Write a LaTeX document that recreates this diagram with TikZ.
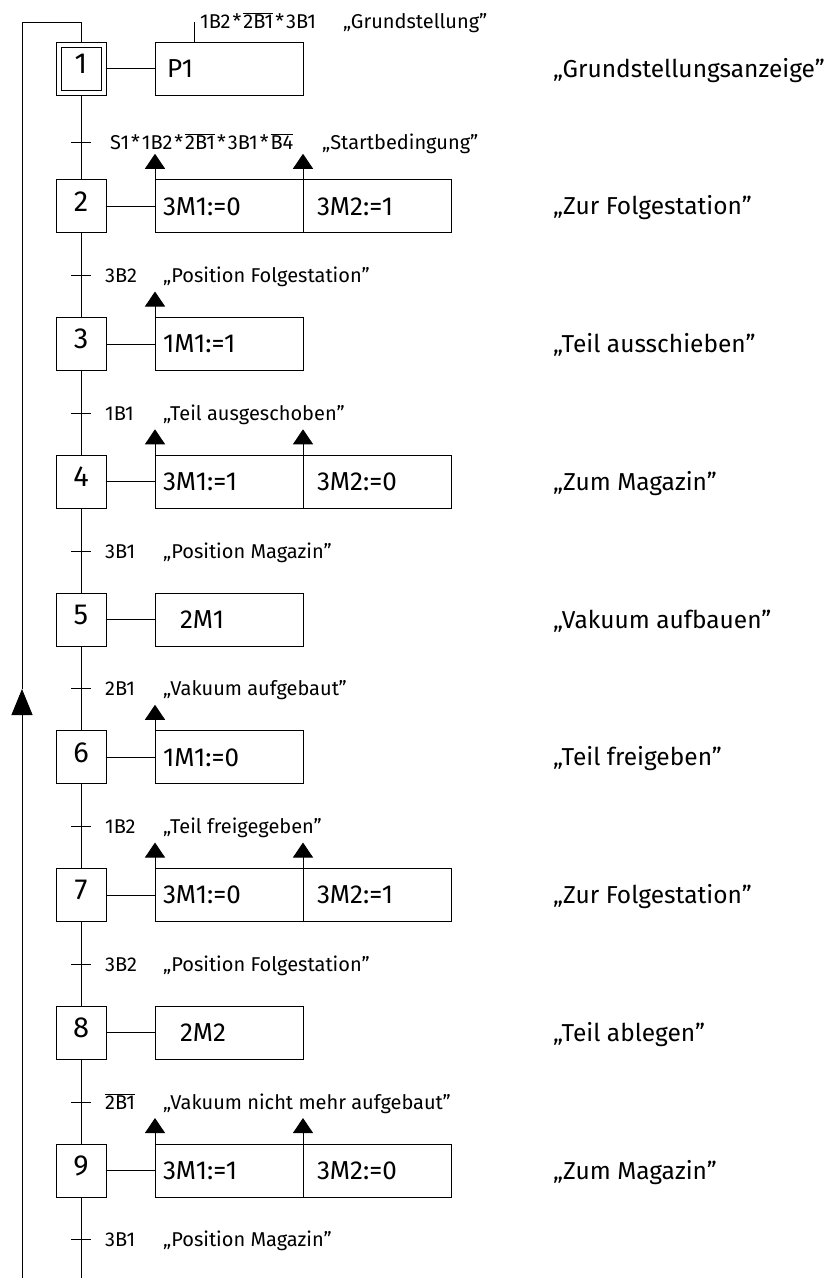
\documentclass[tikz,border=0pt]{standalone}
\usepackage{fontspec}
\setmainfont{Fira Sans}
\usepackage{tikz}
\usetikzlibrary{arrows.meta,positioning,calc}

\newcommand{\ovbar}[1]{$\overline{\mbox{#1}}$}
\newcommand{\und}{\kern2pt*\kern2pt}

\begin{document}
\begin{tikzpicture}[x=1pt, y=1pt,
  node distance=84.75pt and 49pt,
  stepbox/.style={draw, line width=1pt, outer sep=0pt, inner sep=0pt, minimum width=50pt, minimum height=53pt, text depth=10pt, font=\fontsize{29}{29}\selectfont},
  actbox/.style={draw, line width=1pt, outer sep=0pt, inner ysep=0pt, inner xsep=8pt, minimum height=53pt, text width=132pt, align=left, font=\fontsize{26}{26}\selectfont},
  actboxr/.style={actbox, inner xsep=14pt, text width=120pt},
  cond/.style={anchor=west, inner sep=0pt, text height=14pt, text depth=0pt, font=\fontsize{20}{20}\selectfont},
  note/.style={anchor=west, inner sep=0pt, text height=17pt, text depth=0pt, font=\fontsize{24.5}{24.5}\selectfont},
  line/.style={line width=1pt},
  arrow/.style={line width=1pt, -{Triangle[length=15pt, width=20pt]}},
  retarrow/.style={line width=1pt, -{Triangle[length=26pt, width=21pt]}}
]
\useasboundingbox (0,0) rectangle (831,-1278);

% steps
\node[stepbox] (s1) at (81,-68.5) {1};
\node[draw, line width=1pt, minimum width=40pt, minimum height=43pt] (s1in) at (s1) {};
\node[stepbox, below=of s1] (s2) {2};
\node[stepbox, below=of s2] (s3) {3};
\node[stepbox, below=of s3] (s4) {4};
\node[stepbox, below=of s4] (s5) {5};
\node[stepbox, below=of s5] (s6) {6};
\node[stepbox, below=of s6] (s7) {7};
\node[stepbox, below=of s7] (s8) {8};
\node[stepbox, below=of s8] (s9) {9};

% actions
\node[actbox, right=of s1] (a1) {\hspace*{4pt}P1};
\node[actbox, right=of s2] (a2) {3M1:=0};
\node[actboxr, right=0pt of a2] (b2) {3M2:=1};
\node[actbox, right=of s3] (a3) {1M1:=1};
\node[actbox, right=of s4] (a4) {3M1:=1};
\node[actboxr, right=0pt of a4] (b4) {3M2:=0};
\node[actbox, right=of s5] (a5) {\hspace*{17pt}2M1};
\node[actbox, right=of s6] (a6) {1M1:=0};
\node[actbox, right=of s7] (a7) {3M1:=0};
\node[actboxr, right=0pt of a7] (b7) {3M2:=1};
\node[actbox, right=of s8] (a8) {\hspace*{17pt}2M2};
\node[actbox, right=of s9] (a9) {3M1:=1};
\node[actboxr, right=0pt of a9] (b9) {3M2:=0};

% comments on the right
\coordinate (notecol) at (553,0);
\node[note] (n1) at (s1 -| notecol) {„Grundstellungsanzeige”};
\node[note] (n2) at (s2 -| notecol) {„Zur Folgestation”};
\node[note] (n3) at (s3 -| notecol) {„Teil ausschieben”};
\node[note] (n4) at (s4 -| notecol) {„Zum Magazin”};
\node[note] (n5) at (s5 -| notecol) {„Vakuum aufbauen”};
\node[note] (n6) at (s6 -| notecol) {„Teil freigeben”};
\node[note] (n7) at (s7 -| notecol) {„Zur Folgestation”};
\node[note] (n8) at (s8 -| notecol) {„Teil ablegen”};
\node[note] (n9) at (s9 -| notecol) {„Zum Magazin”};

% transitions
\coordinate (t1) at (81,-142);
\coordinate (t2) at ($(s3.north)+(0,42)$);
\coordinate (t3) at ($(s4.north)+(0,42)$);
\coordinate (t4) at ($(s5.north)+(0,42)$);
\coordinate (t5) at ($(s6.north)+(0,42)$);
\coordinate (t6) at ($(s7.north)+(0,42)$);
\coordinate (t7) at ($(s8.north)+(0,42)$);
\coordinate (t8) at ($(s9.north)+(0,42)$);
\coordinate (t9) at ($(s9.south)+(0,-42)$);
\foreach \t in {t1,t2,t3,t4,t5,t6,t7,t8,t9}
  \draw[line] ($(\t)+(-10,0)$) -- ($(\t)+(10,0)$);

\coordinate (condcol) at (105,0);
\coordinate (commcol) at (163,0);
\node[cond] (c1) at (110,-142) {S1\und 1B2\und\ovbar{2B1}\und 3B1\und\ovbar{B4}};
\node[cond] (k1) at (322,-142) {„Startbedingung”};
\node[cond] (c2) at (t2 -| condcol) {3B2};
\node[cond] (k2) at (t2 -| commcol) {„Position Folgestation”};
\node[cond] (c3) at (t3 -| condcol) {1B1};
\node[cond] (k3) at (t3 -| commcol) {„Teil ausgeschoben”};
\node[cond] (c4) at (t4 -| condcol) {3B1};
\node[cond] (k4) at (t4 -| commcol) {„Position Magazin”};
\node[cond] (c5) at (t5 -| condcol) {2B1};
\node[cond] (k5) at (t5 -| commcol) {„Vakuum aufgebaut”};
\node[cond] (c6) at (t6 -| condcol) {1B2};
\node[cond] (k6) at (t6 -| commcol) {„Teil freigegeben”};
\node[cond] (c7) at (t7 -| condcol) {3B2};
\node[cond] (k7) at (t7 -| commcol) {„Position Folgestation”};
\node[cond] (c8) at (t8 -| condcol) {\ovbar{2B1}};
\node[cond] (k8) at (t8 -| commcol) {„Vakuum nicht mehr aufgebaut”};
\node[cond] (c9) at (t9 -| condcol) {3B1};
\node[cond] (k9) at (t9 -| commcol) {„Position Magazin”};

% condition on P1
\coordinate (p1tap) at (194,-22);
\node[cond] (c0) at (200,-21.5) {1B2\und\ovbar{2B1}\und 3B1};
\node[cond] (k0) at (343,-21.5) {„Grundstellung”};
\draw[line] (p1tap) -- (p1tap |- a1.north);

% step chain
\draw[line] (s1) -- (s2);
\draw[line] (s2) -- (s3);
\draw[line] (s3) -- (s4);
\draw[line] (s4) -- (s5);
\draw[line] (s5) -- (s6);
\draw[line] (s6) -- (s7);
\draw[line] (s7) -- (s8);
\draw[line] (s8) -- (s9);
\coordinate (mainbot) at (81,-1278);
\draw[line] (s9) -- (mainbot);

% step to action
\draw[line] (s1) -- (a1);
\draw[line] (s2) -- (a2);
\draw[line] (s3) -- (a3);
\draw[line] (s4) -- (a4);
\draw[line] (s5) -- (a5);
\draw[line] (s6) -- (a6);
\draw[line] (s7) -- (a7);
\draw[line] (s8) -- (a8);
\draw[line] (s9) -- (a9);

% feedback arrows
\draw[arrow] (a2.north west) -- ++(0,26);
\draw[arrow] (b2.north west) -- ++(0,26);
\draw[arrow] (a3.north west) -- ++(0,26);
\draw[arrow] (a4.north west) -- ++(0,26);
\draw[arrow] (b4.north west) -- ++(0,26);
\draw[arrow] (a6.north west) -- ++(0,26);
\draw[arrow] (a7.north west) -- ++(0,26);
\draw[arrow] (b7.north west) -- ++(0,26);
\draw[arrow] (a9.north west) -- ++(0,26);
\draw[arrow] (b9.north west) -- ++(0,26);

% return line
\coordinate (retbot) at (22,-1278);
\coordinate (retmid) at (22,-689);
\coordinate (rettop) at (22,-22);
\draw[retarrow] (retbot) -- (retmid);
\draw[line] (retmid) -- (rettop) -- (rettop -| s1) -- (s1);
\end{tikzpicture}
\end{document}
